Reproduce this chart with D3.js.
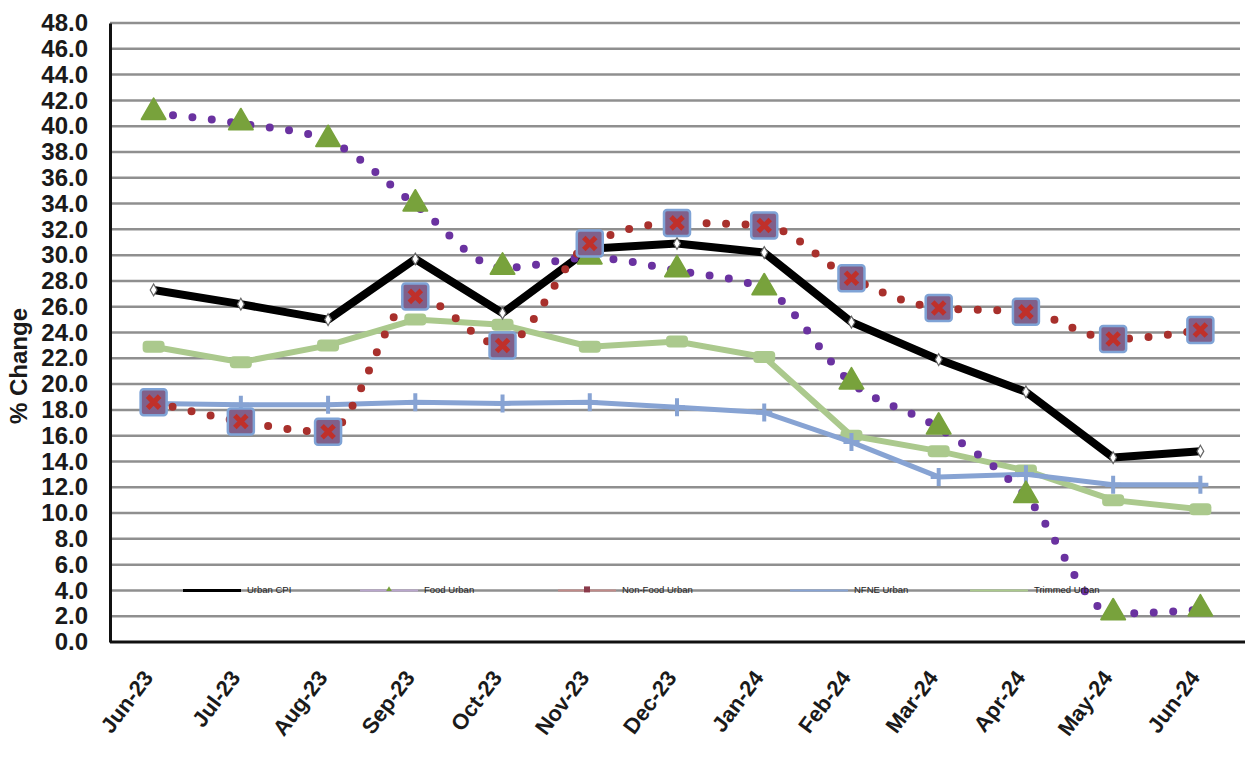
<!DOCTYPE html>
<html>
<head>
<meta charset="utf-8">
<script src="https://cdn.jsdelivr.net/npm/d3@7"></script>
<style>
  body { margin: 0; background: #fff; }
  svg { display: block; font-family: "Liberation Sans", Arial, sans-serif; }
</style>
</head>
<body>
<div id="chart"></div>
<script>
// months on the x axis
const months = ['Jun-23', 'Jul-23', 'Aug-23', 'Sep-23', 'Oct-23', 'Nov-23', 'Dec-23',
  'Jan-24', 'Feb-24', 'Mar-24', 'Apr-24', 'May-24', 'Jun-24'];

// % change
const urbanCPI = [27.3, 26.2, 25.0, 29.7, 25.5, 30.5, 30.9, 30.2, 24.8, 21.9, 19.4, 14.3, 14.8];
const foodUrban = [41.0, 40.2, 38.9, 33.9, 29.0, 29.8, 28.8, 27.4, 20.1, 16.6, 11.3, 2.2, 2.5];
const nonFoodUrban = [18.6, 17.1, 16.3, 26.8, 23.0, 30.9, 32.5, 32.3, 28.2, 25.9, 25.6, 23.5, 24.2];
const nfneUrban = [18.5, 18.4, 18.4, 18.6, 18.5, 18.6, 18.2, 17.8, 15.5, 12.8, 13.0, 12.2, 12.2];
const trimmedUrban = [22.9, 21.7, 23.0, 25.0, 24.6, 22.9, 23.3, 22.1, 16.0, 14.8, 13.3, 11.0, 10.3];

const yTicks = d3.range(0, 48.1, 2);
const seriesNames = ['Urban CPI', 'Food Urban', 'Non-Food Urban', 'NFNE Urban', 'Trimmed Urban'];

const W = 1245, H = 760;
const margin = { top: 23, right: 1, bottom: 118, left: 110 };

const svg = d3.select('#chart').append('svg')
  .attr('width', W)
  .attr('height', H);

const x = d3.scalePoint()
  .domain(months)
  .range([margin.left, W - margin.right])
  .padding(0.5);

const y = d3.scaleLinear()
  .domain([0, 48])
  .range([H - margin.bottom, margin.top]);

// gridlines
svg.append('g')
  .selectAll('line')
  .data(yTicks.filter(d => d > 0))
  .join('line')
  .attr('x1', margin.left)
  .attr('x2', W - 5)
  .attr('y1', d => y(d))
  .attr('y2', d => y(d))
  .attr('stroke', '#8f8f8f')
  .attr('stroke-width', 2.5);

// y axis
const yAxis = d3.axisLeft(y).tickValues(yTicks).tickFormat(d3.format('.1f')).tickSize(0).tickPadding(22);
const gy = svg.append('g')
  .attr('transform', `translate(${margin.left},0)`)
  .call(yAxis);
gy.select('.domain').attr('stroke', '#111').attr('stroke-width', 3);
gy.selectAll('text')
  .attr('font-size', 24)
  .attr('font-weight', 'bold')
  .attr('fill', '#1a1a1a');

// x axis
const xAxis = d3.axisBottom(x).tickSize(0).tickPadding(0);
const gx = svg.append('g')
  .attr('transform', `translate(0,${y(0)})`)
  .call(xAxis);
gx.select('.domain').attr('stroke', '#111').attr('stroke-width', 3)
  .attr('d', `M${margin.left},0H${W}`);
gx.selectAll('text')
  .attr('font-size', 22)
  .attr('font-weight', 'bold')
  .attr('fill', '#1a1a1a')
  .attr('text-anchor', 'end')
  .attr('dy', null)
  .attr('y', null)
  .attr('transform', 'translate(0,36) rotate(-53)');

// y label
svg.append('text')
  .attr('transform', `translate(27,${366}) rotate(-90)`)
  .attr('text-anchor', 'middle')
  .attr('font-size', 24)
  .attr('font-weight', 'bold')
  .attr('fill', '#1a1a1a')
  .text('% Change');

const idx = months.map((m, i) => i);
const line = d3.line().x(i => x(months[i]));
const smooth = d3.line().x(i => x(months[i])).curve(d3.curveMonotoneX);

// Trimmed Urban
svg.append('path')
  .attr('d', line.y(i => y(trimmedUrban[i]))(idx))
  .attr('fill', 'none').attr('stroke', '#abc98d').attr('stroke-width', 6);
svg.append('g').selectAll('rect')
  .data(idx).join('rect')
  .attr('x', i => x(months[i]) - 11)
  .attr('y', i => y(trimmedUrban[i]) - 6)
  .attr('width', 22).attr('height', 12).attr('rx', 4)
  .attr('fill', '#abc98d');

// NFNE Urban
svg.append('path')
  .attr('d', line.y(i => y(nfneUrban[i]))(idx))
  .attr('fill', 'none').attr('stroke', '#87a3d3').attr('stroke-width', 5);
svg.append('g').selectAll('path')
  .data(idx).join('path')
  .attr('transform', i => `translate(${x(months[i])},${y(nfneUrban[i])})`)
  .attr('d', 'M-8,0H8M0,-9V9')
  .attr('stroke', '#87a3d3').attr('stroke-width', 4);

// Urban CPI
svg.append('path')
  .attr('d', line.y(i => y(urbanCPI[i]))(idx))
  .attr('fill', 'none').attr('stroke', '#000').attr('stroke-width', 8)
  .attr('stroke-linejoin', 'round');
svg.append('g').selectAll('path')
  .data(idx).join('path')
  .attr('transform', i => `translate(${x(months[i])},${y(urbanCPI[i])})`)
  .attr('d', d3.symbol(d3.symbolDiamond, 40))
  .attr('fill', '#fff').attr('stroke', '#666').attr('stroke-width', 1.2);

// Food Urban
svg.append('path')
  .attr('d', smooth.y(i => y(foodUrban[i]))(idx))
  .attr('fill', 'none').attr('stroke', '#6a32a0').attr('stroke-width', 8)
  .attr('stroke-linecap', 'round').attr('stroke-dasharray', '0 19.5');
svg.append('g').selectAll('path')
  .data(idx).join('path')
  .attr('transform', i => `translate(${x(months[i])},${y(foodUrban[i]) - 1})`)
  .attr('d', d3.symbol(d3.symbolTriangle, 250))
  .attr('fill', '#78a23c').attr('stroke', '#78a23c').attr('stroke-width', 2)
  .attr('stroke-linejoin', 'round');

// Non-Food Urban
svg.append('path')
  .attr('d', smooth.y(i => y(nonFoodUrban[i]))(idx))
  .attr('fill', 'none').attr('stroke', '#a8302c').attr('stroke-width', 8)
  .attr('stroke-linecap', 'round').attr('stroke-dasharray', '0 19.5');
const nf = svg.append('g').selectAll('g')
  .data(idx).join('g')
  .attr('transform', i => `translate(${x(months[i])},${y(nonFoodUrban[i])})`);
nf.append('rect')
  .attr('x', -13).attr('y', -13).attr('width', 26).attr('height', 26).attr('rx', 3)
  .attr('fill', '#80608a').attr('stroke', '#7fa3d6').attr('stroke-width', 2.5);
nf.append('path')
  .attr('d', 'M-6,-6L6,6M6,-6L-6,6')
  .attr('stroke', '#c0302a').attr('stroke-width', 5);

// legend on the 4.0 gridline
const legendX = [183, 360, 558, 790, 970];
const legendColors = ['#000', '#b9a6cc', '#c08a88', '#87a3d3', '#abc98d'];
const lg = svg.append('g').selectAll('g')
  .data(seriesNames).join('g')
  .attr('transform', (d, i) => `translate(${legendX[i]},${y(4)})`);
lg.append('line')
  .attr('x1', 0).attr('x2', 58)
  .attr('stroke', (d, i) => legendColors[i])
  .attr('stroke-width', (d, i) => i === 0 ? 3 : 2);
lg.filter((d, i) => i === 1).append('path')
  .attr('transform', 'translate(29,-1)')
  .attr('d', d3.symbol(d3.symbolTriangle, 14)).attr('fill', '#78a23c');
lg.filter((d, i) => i === 2).append('rect')
  .attr('x', 26).attr('y', -4).attr('width', 6).attr('height', 6).attr('fill', '#8a3a4a');
lg.append('text')
  .attr('x', 64).attr('y', 3)
  .attr('font-size', 9.5)
  .attr('fill', '#222')
  .text(d => d);
</script>
</body>
</html>
